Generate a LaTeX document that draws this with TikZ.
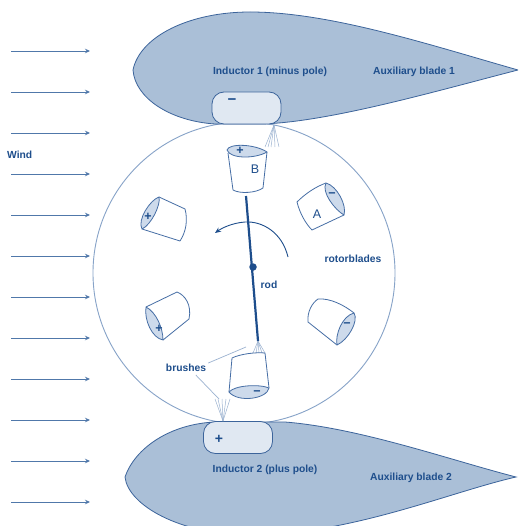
\documentclass[tikz,border=0pt]{standalone}
\usepackage{fontspec}
\setmainfont{Liberation Sans}
\usetikzlibrary{arrows.meta}
\definecolor{ink}{RGB}{30,78,140}
\definecolor{bladefill}{RGB}{170,191,215}
\definecolor{bladeline}{RGB}{60,100,155}
\definecolor{padfill}{RGB}{224,232,242}
\definecolor{ringline}{RGB}{135,163,200}
\definecolor{windline}{RGB}{80,120,170}
\definecolor{cupline}{RGB}{70,110,165}
\definecolor{cupfill}{RGB}{205,218,235}
\definecolor{brushline}{RGB}{155,178,208}
\begin{document}
\begin{tikzpicture}[x=1pt,y=-1pt,
  lbl/.style={font=\bfseries\fontsize{10.3}{12}\selectfont, text=ink, inner sep=0},
  cup/.style={draw=cupline, line width=0.8, line join=round},
  cupend/.style={cup, fill=cupfill},
  sign/.style={font=\bfseries\fontsize{12.5}{13}\selectfont, text=ink, inner sep=0},
  letter/.style={font=\fontsize{12.5}{13}\selectfont, text=ink, inner sep=0},
  pad/.style={draw=bladeline, fill=padfill, rounded corners=12, line width=0.8, minimum width=69, minimum height=32, inner sep=0},
  wing/.style={draw=bladeline, fill=bladefill, line width=0.8},
  wind/.style={draw=windline, line width=0.9, -{Stealth[length=5,width=4.5]}},
  bristle/.style={draw=brushline, line width=0.5},
  pointer/.style={draw=brushline, line width=0.7}]
\useasboundingbox (0,0) rectangle (518,526);
\clip (0,0) rectangle (518,526);
\fill[white] (0,0) rectangle (518,526);

% wind arrows on the left
\foreach \i in {0,...,11}{
  \coordinate (ws\i) at (11,51+41*\i);
  \coordinate (we\i) at (90,51+41*\i);
  \draw[wind] (ws\i) -- (we\i);
}
\node[lbl, anchor=west] (wind) at (7,155) {Wind};

% rotor circle
\draw[ringline, line width=0.9] (244,273) circle (151);

% auxiliary blade 1 (top)
\path[wing] (133,70) .. controls (140,36) and (190,12) .. (250,12)
  .. controls (330,12) and (430,45) .. (518,70)
  .. controls (440,90) and (330,122) .. (262,124)
  -- (215,124) .. controls (170,121) and (135,98) .. (133,70) -- cycle;
% auxiliary blade 2 (bottom)
\path[wing] (125,477) .. controls (135,448) and (170,424) .. (215,422)
  -- (285,422) .. controls (360,428) and (450,460) .. (516,477)
  .. controls (450,492) and (350,535) .. (250,535)
  .. controls (180,535) and (128,505) .. (125,477) -- cycle;

% inductors
\node[pad] (ind1) at (246.5,108) {};
\node[sign, font=\bfseries\fontsize{15}{15}\selectfont] (minus1) at (232,102) {−};
\node[pad] (ind2) at (238,437.5) {};
\node[sign, font=\bfseries\fontsize{14}{14}\selectfont] (plus2) at (219,439) {+};

% labels on the blades
\node[lbl] (l1) at (270,72) {Inductor 1 (minus pole)};
\node[lbl] (l2) at (414,72) {Auxiliary blade 1};
\node[lbl] (l3) at (265,470) {Inductor 2 (plus pole)};
\node[lbl] (l4) at (411,478) {Auxiliary blade 2};

% brushes under inductor 1
\foreach \x in {265,268,271,275,279}
  \draw[bristle] (274,125) -- (\x,147);
% brushes over inductor 2
\foreach \x in {215,218,222,226,230}
  \draw[bristle] (223,421) -- (\x,399);
% brushes at the lower end of the rod
\foreach \x in {253,256,259,262,265}
  \draw[bristle] (258,341) -- (\x,353);

% rod with pivot
\coordinate (rodtop) at (246,196);
\coordinate (rodbot) at (258,341);
\draw[ink, line width=2.2] (rodtop) -- (rodbot);
\node[circle, fill=ink, minimum size=7.5, inner sep=0] (pivot) at (253,267) {};
\node[lbl] (rod) at (269,285) {rod};
\node[lbl] (rotor) at (353,259) {rotorblades};

% direction of rotation
\coordinate (rotA) at (288,257);
\coordinate (rotB) at (215,233);
\draw[ink, line width=0.9, -{Stealth[length=6,width=5]}]
  (rotA) .. controls (282,232) and (262,221) .. (245,222)
  .. controls (232,223) and (222,228) .. (rotB);

% cup B (top)
\path[cup] (228,153) -- (233,190) .. controls (240,194) and (256,193) .. (263,188) -- (267,152);
\path[cupend] (227,150) .. controls (229,143) and (255,144) .. (267,152)
  .. controls (255,159) and (230,159) .. (227,150) -- cycle;
\node[sign] (pB) at (240,151) {+};
\node[letter] (B) at (255,169) {B};

% cup A (upper right)
\path[cup] (326,183) .. controls (315,187) and (305,194) .. (297,202)
  .. controls (300,214) and (306,224) .. (312,230) -- (344,215);
\path[cupend] (326,183) .. controls (337,186) and (347,205) .. (344,215)
  .. controls (335,210) and (321,192) .. (326,183) -- cycle;
\node[sign] (mA) at (332,195) {−};
\node[letter] (A) at (317,214) {A};

% cup upper left
\path[cup] (159,197) -- (185,209) .. controls (188,220) and (186,232) .. (180,241) -- (142,229);
\path[cupend] (159,197) .. controls (150,200) and (137,220) .. (142,229)
  .. controls (151,225) and (161,205) .. (159,197) -- cycle;
\node[sign] (pUL) at (148,217) {+};

% cup lower left
\path[cup] (146,307) -- (177,292) .. controls (185,295) and (192,305) .. (189,319) -- (163,340);
\path[cupend] (146,307) .. controls (144,320) and (152,338) .. (163,340)
  .. controls (163,328) and (156,312) .. (146,307) -- cycle;
\node[sign] (pLL) at (159,329) {+};

% cup lower right
\path[cup] (354,313) .. controls (344,305) and (330,298) .. (318,299)
  .. controls (312,303) and (307,312) .. (308,322) -- (337,345);
\path[cupend] (354,313) .. controls (359,321) and (348,340) .. (337,345)
  .. controls (335,335) and (342,316) .. (354,313) -- cycle;
\node[sign] (mLR) at (347,325) {−};

% cup bottom
\path[cup] (229,392) -- (232,358) .. controls (240,354) and (256,352) .. (265,353) -- (269,388);
\path[cupend] (229,392) .. controls (235,385) and (260,384) .. (269,388)
  .. controls (267,399) and (238,403) .. (229,392) -- cycle;
\node[sign] (mBot) at (257,393) {−};

% brushes label with pointers
\node[lbl] (brushes) at (186,368) {brushes};
\coordinate (brushA) at (246,347);
\coordinate (brushB) at (219,399);
\draw[pointer] (brushes.north east) ++(2,-1) -- (brushA);
\draw[pointer] (brushes.south west) ++(30,3) -- (brushB);
\end{tikzpicture}
\end{document}
